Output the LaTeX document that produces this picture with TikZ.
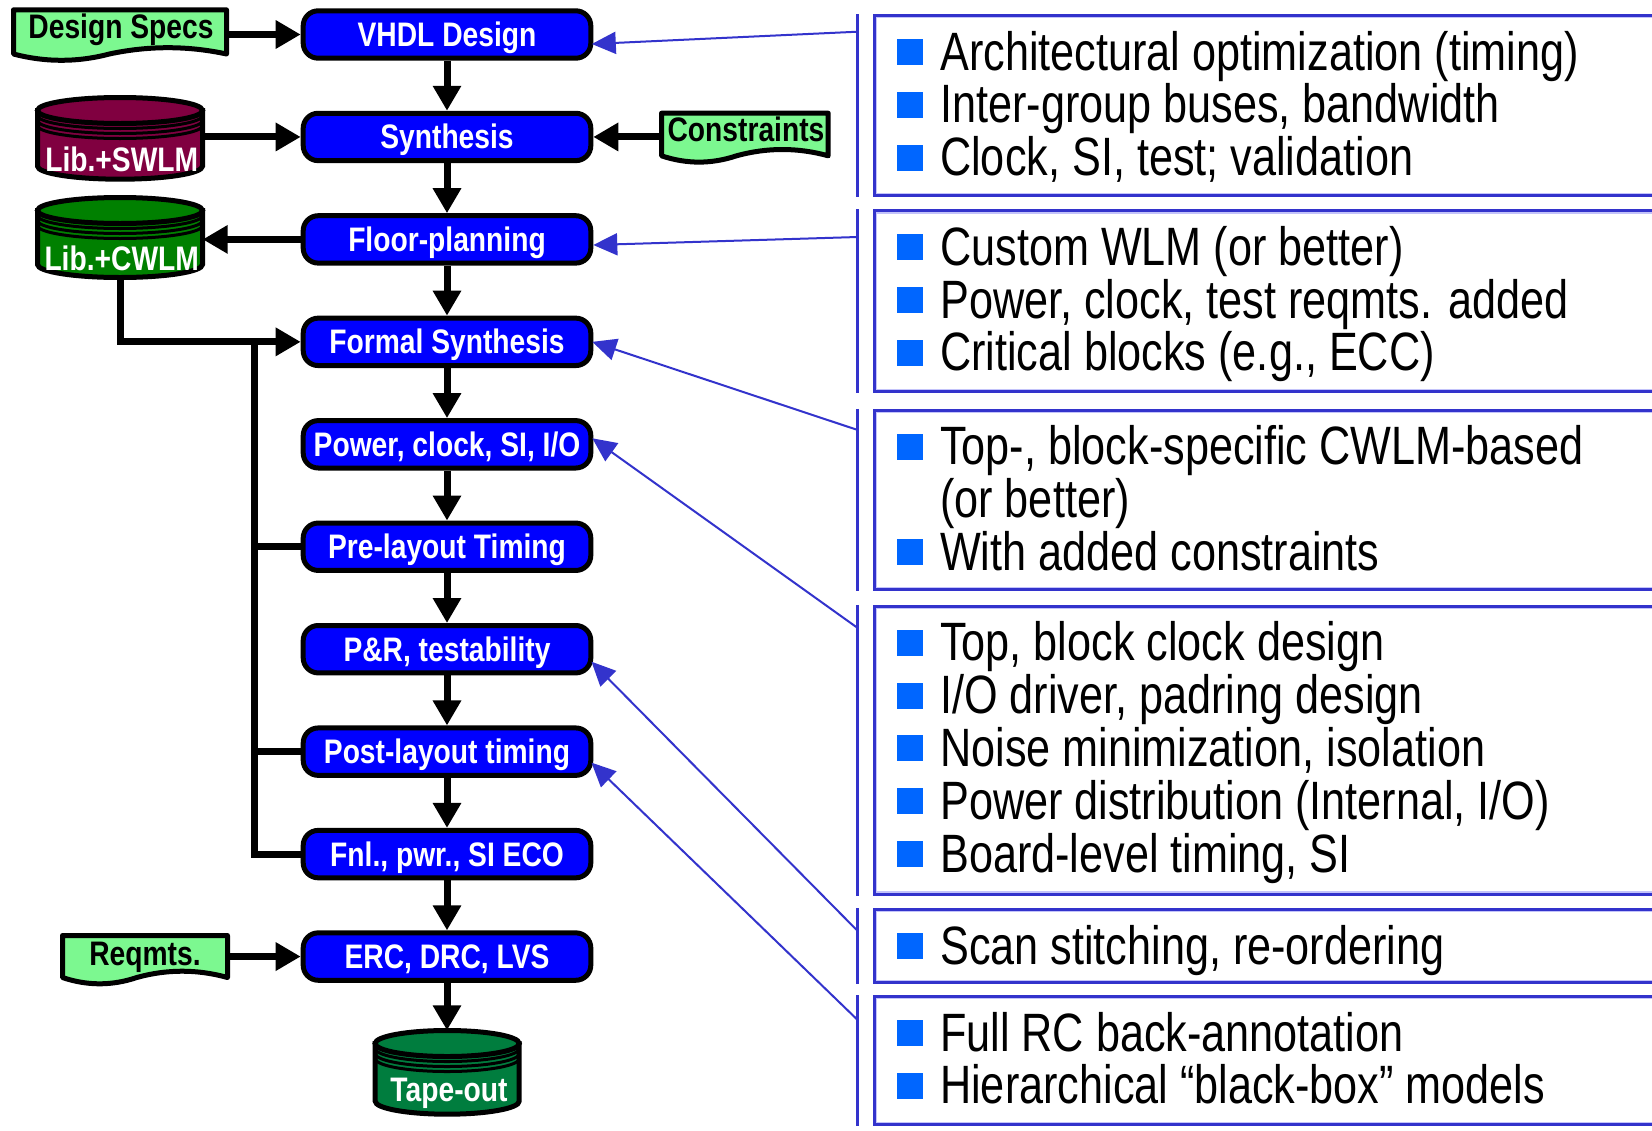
\documentclass[tikz,border=0pt]{standalone}
\usepackage{fontspec}
\usetikzlibrary{arrows.meta,calc}
\newfontfamily\rfont{Liberation Sans}[FakeStretch=0.80]
\newfontfamily\bfont{Liberation Sans}[FakeStretch=0.83]
\definecolor{nodeblue}{RGB}{0,0,255}
\definecolor{rblue}{RGB}{51,51,204}
\definecolor{rlight}{RGB}{195,195,250}
\definecolor{bulletblue}{RGB}{0,102,255}
\definecolor{docgreen}{RGB}{124,248,144}
\definecolor{swlmc}{RGB}{128,0,64}
\definecolor{cwlmc}{RGB}{0,128,0}
\definecolor{tapec}{RGB}{0,125,62}
\pgfdeclarelayer{bg}
\pgfsetlayers{bg,main}
\tikzset{
  stage/.style={rectangle, rounded corners=15pt, draw=black, line width=5pt, fill=nodeblue,
    minimum width=287.6pt, minimum height=47.4pt, inner sep=0pt, text=white,
    font=\bfont\bfseries\fontsize{34pt}{36pt}\selectfont, text height=24pt, text depth=0pt},
  lbl/.style={inner sep=0pt, font=\bfont\bfseries\fontsize{34pt}{36pt}\selectfont,
    text height=24pt, text depth=0pt},
  holder/.style={rectangle, draw=none, inner sep=0pt},
  conn/.style={line width=7pt, draw=black, -{Triangle[length=25pt,width=27pt]}},
  plainline/.style={line width=7pt, draw=black},
  ptr/.style={line width=2pt, draw=rblue, -{Triangle[length=24pt,width=22pt]}},
  rtext/.style={anchor=base west, inner sep=0pt, font=\rfont\fontsize{54pt}{56pt}\selectfont},
  rboxst/.style={rectangle, draw=rblue, line width=3pt, minimum width=790.5pt, inner sep=0pt},
}
% document shape: name, x0, x1, ytop, ybot
\newcommand\docshape[5]{%
  \node[holder, minimum width={#3-#2}, minimum height={#5-#4}] (#1) at ({(#2+#3)/2},{(#4+#5)/2}) {};
  \begin{pgfonlayer}{bg}
  \filldraw[fill=docgreen, line width=5pt, line join=round] (#2,#4) -- (#3,#4) -- (#3,#5)
    .. controls ({#3-0.55*(#3-#2)/3},{#5-8.4}) and ({#2+0.45*(#3-#2)+0.55*(#3-#2)/3},{#5-8.4}) .. ({#2+0.45*(#3-#2)},#5)
    .. controls ({#2+0.45*(#3-#2)-0.45*(#3-#2)/3},{#5+8.4}) and ({#2+0.45*(#3-#2)/3},{#5+8.4}) .. (#2,#5) -- cycle;
  \end{pgfonlayer}}
% cylinder: name, cx, ytop, ybot, rx, colour
\newcommand\cylshape[6]{%
  \node[holder, minimum width={2*#5}, minimum height={#4-#3}] (#1) at (#2,{(#3+#4)/2}) {};
  \begin{pgfonlayer}{bg}
  \begin{scope}[shift={(#2,#3)}]
    \filldraw[fill=#6, line width=5pt] (-#5,13) -- (-#5,{#4-#3-13})
      arc[start angle=180, end angle=0, x radius=#5, y radius=13] -- (#5,13) -- cycle;
    \foreach \k in {5,10,15}
      \draw[line width=3pt] (-#5,{13+\k}) arc[start angle=180, end angle=0, x radius=#5, y radius=13];
    \filldraw[fill=#6, line width=5pt] (0,13) ellipse [x radius=#5, y radius=13];
  \end{scope}
  \end{pgfonlayer}}
% right panel: name, top, bottom
\newcommand\rpanel[3]{%
  \node[rboxst, minimum height={#3-#2-3}] (#1) at (1269.75,{(#2+#3)/2}) {};
  \draw[line width=1.5pt, draw=rlight] ($(#1.north west)+(3.5,3.5)$) rectangle ($(#1.south east)+(-3.5,-3.5)$);
  \draw[line width=2.5pt, draw=rblue] (857.7,#2) -- (857.7,#3);}
\newcommand\bitem[3]{%
  \fill[bulletblue] (897,{#2-31}) rectangle (923,{#2-5});
  \node[rtext] (#1) at (940,#2) {#3};}
\newcommand\citem[3]{\node[rtext] (#1) at (940,#2) {#3};}

\begin{document}
\begin{tikzpicture}[x=1pt,y=-1pt]
\useasboundingbox (0,0) rectangle (1652,1130);
\begin{pgfonlayer}{bg}
\fill[white] (0,0) rectangle (1652,1130);
\end{pgfonlayer}
\clip (0,0) rectangle (1652,1130);

% flow stages
\node[stage] (vhdl) at (447,34.5) {VHDL Design};
\node[stage] (synth) at (447,136.95) {Synthesis};
\node[stage] (floor) at (447,239.4) {Floor-planning};
\node[stage] (formal) at (447,341.85) {Formal Synthesis};
\node[stage] (power) at (447,444.3) {Power, clock, SI, I/O};
\node[stage] (pre) at (447,546.75) {Pre-layout Timing};
\node[stage] (pr) at (447,649.2) {P\&R, testability};
\node[stage] (post) at (447,751.65) {Post-layout timing};
\node[stage] (fnl) at (447,854.1) {Fnl., pwr., SI ECO};
\node[stage] (erc) at (447,956.55) {ERC, DRC, LVS};

% documents
\docshape{ds}{13.5}{226.5}{9.8}{54}
\node[lbl, anchor=base] (dsl) at (121,38.3) {Design Specs};
\docshape{cons}{661.5}{828.2}{113.2}{155.8}
\node[lbl, anchor=base] (consl) at (746,141.7) {Constraints};
\docshape{req}{62.5}{227.5}{935.5}{977.5}
\node[lbl, anchor=base] (reql) at (145,965) {Reqmts.};

% cylinders
\cylshape{swlm}{120}{97.5}{179.2}{82.5}{swlmc}
\node[lbl, text=white, anchor=base] (swlml) at (121.7,171.7) {Lib.+SWLM};
\cylshape{cwlm}{120}{197.5}{277.5}{82.5}{cwlmc}
\node[lbl, text=white, anchor=base] (cwlml) at (121.7,270) {Lib.+CWLM};
\cylshape{tape}{447.2}{1030.5}{1114.2}{72}{tapec}
\node[lbl, text=white, anchor=base] (tapel) at (449,1101.7) {Tape-out};

% connectors
\draw[conn] (ds.east |- vhdl.west) -- (vhdl.west);
\draw[conn] (vhdl) -- (synth);
\draw[conn] (synth) -- (floor);
\draw[conn] (floor) -- (formal);
\draw[conn] (formal) -- (power);
\draw[conn] (power) -- (pre);
\draw[conn] (pre) -- (pr);
\draw[conn] (pr) -- (post);
\draw[conn] (post) -- (fnl);
\draw[conn] (fnl) -- (erc);
\draw[conn] (erc.south) -- (erc.south |- tape.north);
\draw[conn] (swlm.east |- synth.west) -- (synth.west);
\draw[conn] (cons.west |- synth.east) -- (synth.east);
\draw[conn] (floor.west) -- (floor.west -| cwlm.east);
\draw[conn] (cwlm.south) |- (formal.west);
\coordinate (busx) at (254,0);
\draw[plainline] (busx |- formal.west) |- (fnl.west);
\draw[plainline] (busx |- pre.west) -- (pre.west);
\draw[plainline] (busx |- post.west) -- (post.west);
\draw[conn] (req.east |- erc.west) -- (erc.west);

% right panels
\rpanel{bA}{14}{197}
\rpanel{bB}{209.3}{393}
\rpanel{bC}{408.8}{591}
\rpanel{bD}{604.8}{895.6}
\rpanel{bE}{908}{984}
\rpanel{bF}{995}{1126}

\bitem{tA1}{70}{Architectural optimization (timing)}
\bitem{tA2}{122.8}{Inter-group buses, bandwidth}
\bitem{tA3}{175.6}{Clock, SI, test; validation}
\bitem{tB1}{265.3}{Custom WLM (or better)}
\bitem{tB2}{318.1}{Power, clock, test reqmts. added}
\bitem{tB3}{370.9}{Critical blocks (e.g., ECC)}
\bitem{tC1}{464.8}{Top-, block-specific CWLM-based}
\citem{tC2}{517.6}{(or better)}
\bitem{tC3}{570.4}{With added constraints}
\bitem{tD1}{660.8}{Top, block clock design}
\bitem{tD2}{713.6}{I/O driver, padring design}
\bitem{tD3}{766.4}{Noise minimization, isolation}
\bitem{tD4}{819.2}{Power distribution (Internal, I/O)}
\bitem{tD5}{872.0}{Board-level timing, SI}
\bitem{tE1}{964}{Scan stitching, re-ordering}
\bitem{tF1}{1051}{Full RC back-annotation}
\bitem{tF2}{1103.8}{Hierarchical “black-box” models}

% pointers
\coordinate (pA) at (857.7,31.7);
\coordinate (pB) at (857.7,237);
\coordinate (pC) at (857.7,430);
\coordinate (pD) at (857.7,628);
\coordinate (pE) at (857.7,931);
\coordinate (pF) at (857.7,1020);
\draw[ptr] (pA) -- ([xshift=-1.5pt,yshift=-9.5pt]vhdl.east);
\draw[ptr] (pB) -- ([yshift=-5.6pt]floor.east);
\draw[ptr] (pC) -- ([xshift=-1pt]formal.east);
\draw[ptr] (pD) -- ([xshift=-1pt,yshift=6pt]power.east);
\draw[ptr] (pE) -- ([xshift=-1.8pt,yshift=-12.5pt]pr.east);
\draw[ptr] (pF) -- ([xshift=-1.8pt,yshift=-11pt]post.east);
\end{tikzpicture}
\end{document}
